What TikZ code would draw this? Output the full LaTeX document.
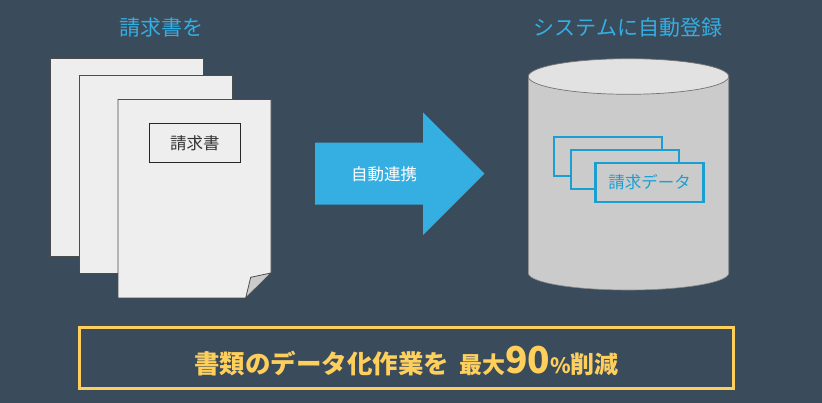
\documentclass[tikz,border=0pt]{standalone}
\usepackage{fontspec}
\setmainfont{Noto Sans CJK JP}

\definecolor{backcol}{HTML}{3A4B5C}
\definecolor{bluecol}{HTML}{35AEE2}
\definecolor{linecol}{HTML}{1A9FD3}
\definecolor{goldcol}{HTML}{FFCF5C}
\definecolor{papercol}{HTML}{EEEEEE}
\definecolor{drumcol}{HTML}{CBCBCB}
\definecolor{lidcol}{HTML}{E2E2E2}

\tikzset{
	sheet/.style={draw=black!70,line width=.8pt,fill=papercol,inner sep=0pt,minimum width=153pt,minimum height=198pt},
	record/.style={draw=linecol,line width=2.2pt,fill=drumcol,inner sep=0pt,minimum width=108pt,minimum height=39pt},
	title/.style={text=bluecol,font=\fontsize{21pt}{24pt}\selectfont}
}

\begin{document}
\begin{tikzpicture}
			[x=1pt,y=-1pt]
			\fill[backcol] (0,0) rectangle (822,403);
			\useasboundingbox (0,0) rectangle (822,403);
			
			\node[title] (t1) at (161.5,27.5) {請求書を};
			\node[title] (t2) at (628,27.5) {システムに自動登録};
			
			% paper stack
			\foreach \name/\x/\y in {s1/127/157,s2/156/174.5}
			\node[sheet] (\name) at (\x,\y) {};
			\coordinate (a) at (118,99.5);
			\coordinate (b) at (271,99.5);
			\coordinate (c) at (271,273);
			\coordinate (d) at (245.7,298);
			\coordinate (e) at (118,298);
			\coordinate (f) at (250.7,277.3);
			\draw[black!70,line width=.8pt,fill=papercol] (a) -- (b) -- (c) -- (d) -- (e) -- cycle;
			\draw[black!70,line width=.8pt,fill=drumcol] (c) -- (f) -- (d) -- cycle;
			\node[draw=black!85,line width=.9pt,fill=papercol,inner sep=0pt,minimum width=91pt,minimum height=38.6pt,font=\fontsize{16.5pt}{20pt}\selectfont,text=black!80] (l1) at (194.8,143) {請求書};
			
			% arrow
			\fill[bluecol] (315,142.7) -- (423,142.7) -- (423,112.3) -- (484.5,173.7) -- (423,235) -- (423,204.7) -- (315,204.7) -- cycle;
			\node[text=white,font=\fontsize{16.5pt}{20pt}\selectfont] (n1) at (384,174) {自動連携};
			
			% drum
			\draw[black!45,line width=.6pt,fill=drumcol] (528.3,76.5) -- (528.3,273) arc[start angle=180,end angle=360,x radius=100.2pt,y radius=17pt] -- (728.7,76.5) -- cycle;
			\draw[black!55,line width=.7pt,fill=lidcol] (628.5,76.5) ellipse[x radius=100.2pt,y radius=17.8pt];
			
			\foreach \name/\x/\y in {r1/608/156.2,r2/625/169.5}
			\node[record] (\name) at (\x,\y) {};
			\node[record,text=linecol,font=\fontsize{16.5pt}{20pt}\selectfont] (r3) at (649.5,182.5) {請求データ};
			
			\node[draw=goldcol,line width=3pt,inner sep=0pt,minimum width=654pt,minimum height=61pt] (b1) at (406.5,358) {};
			\node[text=goldcol,font=\bfseries,inner sep=0pt] (b2) at (406.5,361) {\fontsize{25.5pt}{30pt}\selectfont 書類のデータ化作業を\hspace{10pt}\fontsize{23pt}{30pt}\selectfont 最大\fontsize{37pt}{30pt}\selectfont 90\fontsize{21pt}{30pt}\selectfont \%\fontsize{24pt}{30pt}\selectfont 削減};
			\end{tikzpicture}
\end{document}
